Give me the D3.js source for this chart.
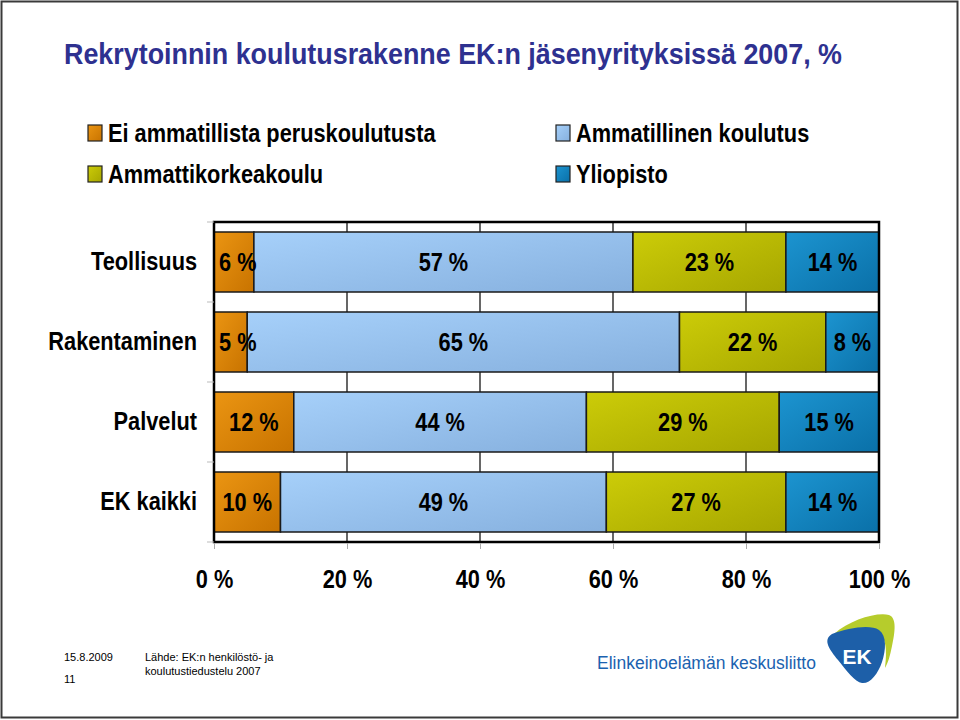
<!DOCTYPE html>
<html><head><meta charset="utf-8">
<script src="https://cdn.jsdelivr.net/npm/d3@7"></script>
<style>
html,body{margin:0;padding:0;background:#fff;}
svg{display:block;font-family:"Liberation Sans",Arial,sans-serif;}
</style></head>
<body>
<svg id="chart" width="960" height="720"></svg>
<script>
const categories = ["Teollisuus","Rakentaminen","Palvelut","EK kaikki"];
const seriesNames = ["Ei ammatillista peruskoulutusta","Ammatillinen koulutus","Ammattikorkeakoulu","Yliopisto"];
const eiAmmatillista = [6,5,12,10];
const ammatillinen = [57,65,44,49];
const ammattikorkeakoulu = [23,22,29,27];
const yliopisto = [14,8,15,14];
const xTicks = [0,20,40,60,80,100];
const title = "Rekrytoinnin koulutusrakenne EK:n jäsenyrityksissä 2007, %";

const seriesValues = [eiAmmatillista, ammatillinen, ammattikorkeakoulu, yliopisto];
const colorsLight = ["#eb9512","#a6d0fa","#cccc08","#1c94d0"];
const colorsDark  = ["#c87300","#86b0de","#a6a600","#0a70a8"];

const svg = d3.select("#chart");
const defs = svg.append("defs");
seriesNames.forEach((s,i)=>{
  const g = defs.append("linearGradient").attr("id","g"+i)
    .attr("x1",0).attr("y1",0).attr("x2",1).attr("y2",1);
  g.append("stop").attr("offset","0%").attr("stop-color",colorsLight[i]);
  g.append("stop").attr("offset","100%").attr("stop-color",colorsDark[i]);
});

// condense text horizontally (reference uses a narrow face)
function condense(sel, f){
  sel.each(function(){
    const w = this.getComputedTextLength();
    if (w>0) d3.select(this).attr("textLength", w*f).attr("lengthAdjust","spacingAndGlyphs");
  });
}
const CF = 0.87, FS = 25;

// frame
svg.append("rect").attr("x",1.5).attr("y",1.5).attr("width",956).attr("height",716)
  .attr("fill","none").attr("stroke","#3a3a3a").attr("stroke-width",2);

// title
svg.append("text").attr("x",64).attr("y",64).attr("fill","#2e3190")
  .attr("font-size",29).attr("font-weight","bold")
  .attr("textLength",778).attr("lengthAdjust","spacingAndGlyphs").text(title);

// legend
const legendPos = [[88,133],[556,133],[88,174],[556,174]];
seriesNames.forEach((name,si)=>{
  const [lx,ly] = legendPos[si];
  svg.append("rect").attr("x",lx).attr("y",ly-8).attr("width",14).attr("height",16)
    .attr("fill","url(#g"+si+")").attr("stroke","#222").attr("stroke-width",1.2);
  svg.append("text").attr("class","lg").attr("x",lx+20).attr("y",ly+9).attr("font-size",FS)
    .attr("font-weight","bold").attr("fill","#000").text(name);
});
condense(svg.selectAll("text.lg"), CF);

// scales
const x = d3.scaleLinear().domain([0,100]).range([214,879]);
const y = d3.scaleBand().domain(categories).range([222,542]).paddingInner(0.25).paddingOuter(0.125);

// gridlines
svg.append("g").selectAll("line").data(xTicks).join("line")
  .attr("x1",d=>x(d)).attr("x2",d=>x(d)).attr("y1",222).attr("y2",542)
  .attr("stroke","#000").attr("stroke-width",1.2);

// stacked data
const rows = categories.map((c,ci)=>{
  let acc=0;
  return seriesValues.map((arr,si)=>{
    const v=arr[ci]; const seg={cat:c,si,v,x0:acc,x1:acc+v}; acc+=v; return seg;
  });
}).flat();

const bars = svg.append("g");
bars.selectAll("rect").data(rows).join("rect")
  .attr("x",d=>x(d.x0)).attr("width",d=>x(d.x1)-x(d.x0))
  .attr("y",d=>y(d.cat)).attr("height",y.bandwidth())
  .attr("fill",d=>"url(#g"+d.si+")").attr("stroke","#1a1a1a").attr("stroke-width",1.5);

const vl = bars.selectAll("text").data(rows).join("text")
  .attr("x",d=>x((d.x0+d.x1)/2)).attr("y",d=>y(d.cat)+y.bandwidth()/2+9)
  .attr("text-anchor","middle").attr("font-size",FS).attr("font-weight","bold")
  .attr("fill","#000").text(d=>d.v+" %");
condense(vl, CF);
// labels wider than their segment start just inside the segment (as in the reference)
vl.each(function(d){
  const w = +d3.select(this).attr("textLength");
  const segW = x(d.x1)-x(d.x0);
  if (w > segW - 4) d3.select(this).attr("text-anchor","start").attr("x", x(d.x0)+5);
});

// plot border
svg.append("rect").attr("x",214).attr("y",222).attr("width",665).attr("height",320)
  .attr("fill","none").attr("stroke","#000").attr("stroke-width",2.5);

// x axis
const xAxis = svg.append("g").attr("transform","translate(0,543)")
  .call(d3.axisBottom(x).tickValues(xTicks).tickFormat(d=>d+" %").tickSize(6).tickSizeOuter(0));
xAxis.select(".domain").remove();
xAxis.selectAll(".tick line").attr("stroke","#aaa");
xAxis.selectAll(".tick text").attr("font-size",FS).attr("font-weight","bold")
  .attr("fill","#000").attr("font-family","Liberation Sans, Arial, sans-serif").attr("dy","1.45em");
condense(xAxis.selectAll(".tick text"), CF);

// y axis labels
const yAxis = svg.append("g").attr("transform","translate(214,0)")
  .call(d3.axisLeft(y).tickSize(0).tickPadding(17));
yAxis.select(".domain").remove();
yAxis.selectAll(".tick text").attr("font-size",FS).attr("font-weight","bold")
  .attr("fill","#000").attr("font-family","Liberation Sans, Arial, sans-serif");
condense(yAxis.selectAll(".tick text"), CF);
// small category boundary ticks
const bounds = categories.map(c=>y(c)-y.step()*y.paddingInner()/2).concat([542]);
svg.append("g").selectAll("line").data(bounds).join("line")
  .attr("x1",207).attr("x2",214).attr("y1",d=>d).attr("y2",d=>d)
  .attr("stroke","#bbb").attr("stroke-width",1);

// footer
const foot = svg.append("g").attr("font-family","Liberation Sans, Arial, sans-serif").attr("fill","#000");
foot.append("text").attr("x",64).attr("y",661).attr("font-size",11).text("15.8.2009");
foot.append("text").attr("x",64).attr("y",683).attr("font-size",11).text("11");
foot.append("text").attr("x",145).attr("y",661).attr("font-size",11).text("Lähde: EK:n henkilöstö- ja");
foot.append("text").attr("x",145).attr("y",675).attr("font-size",11).text("koulutustiedustelu 2007");

// logo
function fitSize(sel, target){
  const fs = +sel.attr("font-size");
  const w = sel.node().getComputedTextLength();
  sel.attr("font-size", fs*target/w);
}
const logoText = svg.append("text").attr("x",597).attr("y",669).attr("font-size",20).attr("fill","#1b62b0")
  .text("Elinkeinoelämän keskusliitto");
fitSize(logoText, 219);
svg.append("path").attr("fill","#b6cc2c")
  .attr("d","M834,634 C850,620 876,612 889,615 C897,618 895,632 892,646 C890,656 888,663 885,668 C887,652 887,637 877,632 C863,627 848,630 834,634 Z");
svg.append("path").attr("fill","#1d5fa8")
  .attr("d","M832,634 C848,628 870,624 879,630 C887,636 886,650 882,662 C878,674 870,684 862,683 C855,682 846,670 838,660 C830,650 822,640 832,634 Z");
const ek = svg.append("text").attr("x",857).attr("y",664).attr("text-anchor","middle").attr("font-size",21)
  .attr("font-weight","bold").attr("fill","#fff").text("EK");
fitSize(ek, 29);
</script>
</body></html>
